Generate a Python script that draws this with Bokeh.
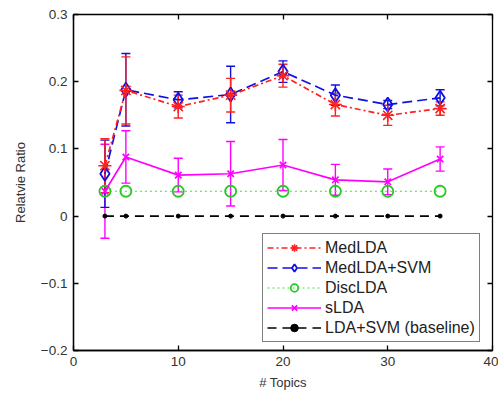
from bokeh.plotting import figure
from bokeh.models import (ColumnDataSource, Whisker, TeeHead, LinearAxis, Range1d, FixedTicker,
                          Legend, LegendItem, CustomJSTickFormatter)
from bokeh.embed import file_html
from bokeh.resources import INLINE

topics = [3, 5, 10, 15, 20, 25, 30, 35]
medlda = [0.075, 0.187, 0.163, 0.180, 0.209, 0.166, 0.150, 0.160]
medlda_err = [0.040, 0.050, 0.017, 0.025, 0.017, 0.017, 0.015, 0.010]
medlda_svm = [0.063, 0.188, 0.173, 0.181, 0.215, 0.180, 0.166, 0.176]
medlda_svm_err = [0.050, 0.054, 0.012, 0.042, 0.016, 0.015, 0.006, 0.012]
disclda = [0.037, 0.037, 0.037, 0.037, 0.037, 0.037, 0.037, 0.037]
slda = [0.037, 0.088, 0.061, 0.063, 0.076, 0.054, 0.051, 0.085]
slda_err = [0.070, 0.039, 0.025, 0.048, 0.038, 0.023, 0.019, 0.018]
baseline = [0, 0, 0, 0, 0, 0, 0, 0]

x_ticks = [0, 10, 20, 30, 40]
y_ticks = [-0.2, -0.1, 0, 0.1, 0.2, 0.3]

FONT = "Liberation Sans"

p = figure(width=498, height=392, output_backend="svg", toolbar_location=None,
           x_range=Range1d(0, 40), y_range=Range1d(-0.2, 0.3))
p.min_border_left = 73
p.min_border_right = 6
p.min_border_top = 14
p.min_border_bottom = 41
p.xgrid.visible = False
p.ygrid.visible = False
p.outline_line_color = "black"
p.outline_line_width = 1.3

for ax in (p.xaxis[0], p.yaxis[0]):
    ax.major_tick_in = 5
    ax.major_tick_out = 0
    ax.minor_tick_line_color = None
    ax.axis_line_color = "black"
    ax.axis_line_width = 1.3
    ax.major_tick_line_width = 1.3
    ax.major_label_text_font = FONT
    ax.major_label_text_font_size = "13.5px"
    ax.major_label_text_color = "#333333"
    ax.axis_label_text_font = FONT
    ax.axis_label_text_font_size = "13px"
    ax.axis_label_text_font_style = "normal"
    ax.axis_label_text_color = "#333333"
p.xaxis.ticker = FixedTicker(ticks=x_ticks)
p.yaxis.ticker = FixedTicker(ticks=y_ticks)
p.yaxis.major_label_overrides = {-0.2: "\u22120.2", -0.1: "\u22120.1", 0: "0", 0.1: "0.1", 0.2: "0.2", 0.3: "0.3"}
p.xaxis.axis_label = "# Topics"
p.yaxis.axis_label = "Relatvie Ratio"
p.xaxis.major_label_standoff = 6
p.xaxis.axis_label_standoff = 6
p.yaxis.major_label_standoff = 6
p.yaxis.axis_label_standoff = 10

blank = CustomJSTickFormatter(code="return '';")
top_ax = LinearAxis(ticker=FixedTicker(ticks=x_ticks), formatter=blank,
                    major_tick_in=5, major_tick_out=0, major_tick_line_width=1.3,
                    minor_tick_line_color=None, axis_line_color=None, major_label_standoff=0)
right_ax = LinearAxis(ticker=FixedTicker(ticks=y_ticks), formatter=blank,
                      major_tick_in=5, major_tick_out=0, major_tick_line_width=1.3,
                      minor_tick_line_color=None, axis_line_color=None, major_label_standoff=0)
p.add_layout(top_ax, "above")
p.add_layout(right_ax, "right")

def err_source(vals, errs):
    return ColumnDataSource(dict(x=topics, y=vals,
                                 lo=[v - e for v, e in zip(vals, errs)],
                                 hi=[v + e for v, e in zip(vals, errs)]))

def add_err(src, color):
    p.add_layout(Whisker(source=src, base="x", upper="hi", lower="lo", line_color=color, line_width=1.4,
                         upper_head=TeeHead(size=9, line_color=color, line_width=1.4),
                         lower_head=TeeHead(size=9, line_color=color, line_width=1.4)))

RED, BLUE, GREEN, MAG = "#ff2020", "#1010e0", "#22cc22", "#ff00ff"

s_sl = err_source(slda, slda_err)
s_ms = err_source(medlda_svm, medlda_svm_err)
s_md = err_source(medlda, medlda_err)
add_err(s_sl, MAG)
add_err(s_ms, BLUE)
add_err(s_md, RED)

# baseline
bl_line = p.line(topics, baseline, line_color="black", line_width=1.6, line_dash="9 6")
bl_mark = p.scatter(topics, baseline, marker="circle", size=4, color="black")
# DiscLDA
dl_line = p.line(topics, disclda, line_color="#44dd44", line_width=1.2, line_dash="2 3")
dl_mark = p.scatter(topics, disclda, marker="circle", size=11, fill_color=None, line_color=GREEN, line_width=1.8)
# sLDA
sl_line = p.line("x", "y", source=s_sl, line_color=MAG, line_width=1.7)
sl_mark = p.scatter("x", "y", source=s_sl, marker="x", size=9, line_color=MAG, line_width=1.7)
# MedLDA+SVM
ms_line = p.line("x", "y", source=s_ms, line_color=BLUE, line_width=1.7, line_dash="10 5")
ms_mark = p.scatter("x", "y", source=s_ms, marker="diamond", size=14, fill_color=None, line_color=BLUE, line_width=1.8)
# MedLDA
md_line = p.line("x", "y", source=s_md, line_color=RED, line_width=1.7, line_dash="6 3 2 3")
md_mark = p.scatter("x", "y", source=s_md, marker="asterisk", size=13, line_color=RED, line_width=1.6)

legend = Legend(items=[
    LegendItem(label="MedLDA", renderers=[md_line, md_mark]),
    LegendItem(label="MedLDA+SVM", renderers=[ms_line, ms_mark]),
    LegendItem(label="DiscLDA", renderers=[dl_line, dl_mark]),
    LegendItem(label="sLDA", renderers=[sl_line, sl_mark]),
    LegendItem(label="LDA+SVM (baseline)", renderers=[bl_line, bl_mark]),
], location=(189, 8))
legend.label_text_font = FONT
legend.label_text_font_size = "16px"
legend.label_text_color = "#222222"
legend.glyph_width = 54
legend.glyph_height = 19
legend.label_height = 19
legend.spacing = 1
legend.padding = 4
legend.margin = 0
legend.label_standoff = 4
legend.border_line_color = "black"
legend.border_line_width = 1.3
legend.background_fill_alpha = 1
p.add_layout(legend, "center")

open("out.html", "w").write(file_html(p, INLINE))
